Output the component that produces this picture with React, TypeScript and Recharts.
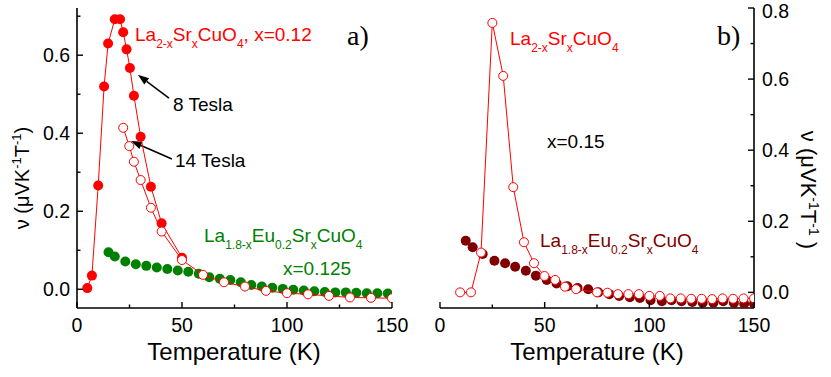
import React from "react";
import { ScatterChart, Scatter, XAxis, YAxis, ReferenceLine } from "recharts";

const FONT = "'Liberation Sans', Arial, sans-serif";
const SERIF = "'Liberation Serif', 'Times New Roman', serif";
const RED = "#ff0000";
const GREEN = "#008000";
const DARKRED = "#800000";

// axis ticks
const xTicks = [0, 25, 50, 75, 100, 125, 150];
const xMajor = [0, 50, 100, 150];
const yTicksA = [0, 0.1, 0.2, 0.3, 0.4, 0.5, 0.6, 0.7];
const yTicksB = [0, 0.1, 0.2, 0.3, 0.4, 0.5, 0.6, 0.7, 0.8];
const yMajor = [0, 0.2, 0.4, 0.6, 0.8];

// panel a) La2-xSrxCuO4 x=0.12, 8 Tesla (filled)
const tA8 = [4.9, 7.1, 10.1, 12.9, 14.8, 18, 20.5, 22, 23.6, 25.2, 27.1, 30.3, 35.2, 40.3, 50];
const vA8 = [0.003, 0.035, 0.266, 0.52, 0.63, 0.692, 0.692, 0.659, 0.615, 0.567, 0.496, 0.391, 0.263, 0.169, 0.081];
// panel a) 14 Tesla (open)
const tA14 = [22, 24.9, 27.1, 30.3, 35.2, 40.3, 50, 60, 70, 80, 90, 100, 110, 120, 130, 140, 150];
const vA14 = [0.414, 0.367, 0.327, 0.28, 0.209, 0.148, 0.075, 0.037, 0.018, 0.007, -0.004, -0.01, -0.013, -0.017, -0.021, -0.022, -0.023];
// panel a) La1.8-xEu0.2SrxCuO4 x=0.125
const tAEu = [15, 18, 23, 28, 33, 38, 43, 48, 53, 58, 63, 68, 73, 78, 83, 88, 93, 98, 103, 108, 113, 118, 123, 128, 133, 138, 143, 148];
const vAEu = [0.095, 0.084, 0.071, 0.064, 0.06, 0.056, 0.052, 0.048, 0.045, 0.04, 0.031, 0.027, 0.024, 0.018, 0.011, 0.007, 0.004, 0.001, -0.001, -0.003, -0.005, -0.007, -0.008, -0.008, -0.009, -0.01, -0.01, -0.011];

// panel b) La2-xSrxCuO4 x=0.15 (open)
const tB = [9.6, 14.8, 19.6, 25, 30.2, 35, 40.1, 44.9, 49.9, 55, 59.7, 65, 75, 80, 85, 90, 95, 100, 105, 110, 115, 120, 125, 130, 135, 140, 145, 150];
const vB = [0, 0, 0.112, 0.758, 0.609, 0.296, 0.141, 0.082, 0.046, 0.035, 0.016, 0.009, 0, -0.001, -0.005, -0.005, -0.005, -0.01, -0.01, -0.017, -0.017, -0.018, -0.018, -0.019, -0.017, -0.018, -0.017, -0.017];
// panel b) La1.8-xEu0.2SrxCuO4 x=0.15
const tBEu = [12.3, 15.6, 20.4, 26, 31.1, 35.9, 41, 45.8, 51, 55.7, 60.8, 65.7, 70.8, 75.6, 80.9, 85.6, 90.7, 95.5, 100.6, 106, 110.6, 115.4, 120.5, 125.5, 130.6, 135.3, 140.4, 145.3, 150];
const vBEu = [0.145, 0.127, 0.108, 0.089, 0.082, 0.072, 0.061, 0.047, 0.035, 0.025, 0.017, 0.012, 0.009, 0, -0.005, -0.01, -0.014, -0.016, -0.022, -0.025, -0.022, -0.025, -0.027, -0.029, -0.029, -0.025, -0.03, -0.032, -0.032];

// arrows (tail -> tip) in data units
const arrow8T = [{ x: 43.8, y: 0.49 }, { x: 29, y: 0.55 }];
const arrow14T = [{ x: 45.2, y: 0.334 }, { x: 25.7, y: 0.38 }];

const zip = (t: number[], v: number[]) => t.map((x, i) => ({ t: x, v: v[i] }));

type Side = "left" | "right" | "top" | "bottom";

const tickRenderer = (side: Side, majors: number[], showLabel: boolean, fmt: (v: number) => string) => (props: any) => {
  const { x, y, payload } = props;
  const v = payload.value;
  const major = majors.some((m) => Math.abs(m - v) < 1e-6);
  const len = major ? 6 : 3.5;
  const st = { stroke: "#000", strokeWidth: 1.4 };
  // keep the topmost label inside the page
  const ly = Math.max(y, 11);
  let line = null;
  let label = null;
  if (side === "left") {
    line = <line x1={x} y1={y} x2={x + len} y2={y} {...st} />;
    if (showLabel && major) label = <text x={x - 7} y={ly} dy="0.35em" textAnchor="end" fontSize={19.5} fill="#000">{fmt(v)}</text>;
  } else if (side === "right") {
    line = <line x1={x} y1={y} x2={x - len} y2={y} {...st} />;
    if (showLabel && major) label = <text x={x + 8} y={ly} dy="0.35em" textAnchor="start" fontSize={19.5} fill="#000">{fmt(v)}</text>;
  } else if (side === "top") {
    line = <line x1={x} y1={y} x2={x} y2={y + len} {...st} />;
  } else {
    line = <line x1={x} y1={y} x2={x} y2={y - len} {...st} />;
    if (showLabel && major) label = <text x={x} y={y + 10} dy="0.71em" textAnchor="middle" fontSize={19.5} fill="#000">{fmt(v)}</text>;
  }
  return (
    <g>
      {line}
      {label}
    </g>
  );
};

const fx = (v: number) => String(v);
const fy = (v: number) => v.toFixed(1);
const axisLine = { stroke: "#000", strokeWidth: 1.6 };

const filled = (color: string, r: number) => (p: any) => <circle cx={p.cx} cy={p.cy} r={r} fill={color} />;
const open = (color: string, r: number) => (p: any) => <circle cx={p.cx} cy={p.cy} r={r} fill="#fff" stroke={color} strokeWidth={1} />;

const arrowShape = (p: any) => {
  const { x1, y1, x2, y2 } = p;
  const ang = Math.atan2(y2 - y1, x2 - x1);
  const L = 11;
  const W = 4;
  const bx = x2 - L * Math.cos(ang);
  const by = y2 - L * Math.sin(ang);
  const nx = -Math.sin(ang) * W;
  const ny = Math.cos(ang) * W;
  return (
    <g>
      <line x1={x1} y1={y1} x2={bx} y2={by} stroke="#000" strokeWidth={1.5} />
      <polygon points={`${x2},${y2} ${bx + nx},${by + ny} ${bx - nx},${by - ny}`} fill="#000" />
    </g>
  );
};

// chemical formula: [text, shift] pieces, shift > 0 = subscript, < 0 = superscript
const Formula = ({ parts, small = 12 }: { parts: [string, number][]; small?: number }) => {
  let cur = 0;
  return (
    <>
      {parts.map(([s, shift], i) => {
        const dy = shift - cur;
        cur = shift;
        return (
          <tspan key={i} dy={dy} fontSize={shift !== 0 ? small : undefined}>
            {s}
          </tspan>
        );
      })}
    </>
  );
};

const lsco: [string, number][] = [["La", 0], ["2-x", 7], ["Sr", 0], ["x", 7], ["CuO", 0], ["4", 7]];
const lesco: [string, number][] = [["La", 0], ["1.8-x", 7], ["Eu", 0], ["0.2", 7], ["Sr", 0], ["x", 7], ["CuO", 0], ["4", 7]];
const unitL: [string, number][] = [["ν (μVK", 0], ["-1", -8], ["T", 0], ["-1", -8], [")", 0]];
const unitR: [string, number][] = [["ν (μVK", 0], ["-1", -8], ["T", 0], ["-1", -8], [" )", 0]];

const PanelA = () => (
  <ScatterChart width={410} height={377} margin={{ top: 8, right: 18, bottom: 0, left: 27 }} style={{ fontFamily: FONT }}>
    <XAxis xAxisId="b" type="number" dataKey="t" domain={[0, 150]} ticks={xTicks} interval={0} allowDataOverflow height={69}
      tickSize={0} tickMargin={0} tickLine={false} axisLine={axisLine} tick={tickRenderer("bottom", xMajor, true, fx)} />
    <XAxis xAxisId="t" orientation="top" type="number" dataKey="t" domain={[0, 150]} ticks={xTicks} interval={0} allowDataOverflow height={0}
      tickSize={0} tickMargin={0} tickLine={false} axisLine={axisLine} tick={tickRenderer("top", xMajor, false, fx)} />
    <YAxis yAxisId="l" type="number" dataKey="v" domain={[-0.048, 0.721]} ticks={yTicksA} interval={0} allowDataOverflow width={50}
      tickSize={0} tickMargin={0} tickLine={false} axisLine={axisLine} tick={tickRenderer("left", yMajor, true, fy)} />
    <YAxis yAxisId="r" orientation="right" type="number" dataKey="v" domain={[-0.048, 0.721]} ticks={yTicksA} interval={0} allowDataOverflow width={0}
      tickSize={0} tickMargin={0} tickLine={false} axisLine={axisLine} tick={tickRenderer("right", yMajor, false, fy)} />
    <Scatter xAxisId="b" yAxisId="l" data={zip(tAEu, vAEu)} dataKey="v" shape={filled(GREEN, 5)} isAnimationActive={false} />
    <Scatter xAxisId="b" yAxisId="l" data={zip(tA8, vA8)} dataKey="v" shape={filled(RED, 5)} line={{ stroke: RED, strokeWidth: 1 }} lineType="joint" isAnimationActive={false} />
    <Scatter xAxisId="b" yAxisId="l" data={zip(tA14, vA14)} dataKey="v" shape={open(RED, 4.5)} line={{ stroke: RED, strokeWidth: 1 }} lineType="joint" isAnimationActive={false} />
    <ReferenceLine xAxisId="b" yAxisId="l" segment={arrow8T} ifOverflow="visible" shape={arrowShape} />
    <ReferenceLine xAxisId="b" yAxisId="l" segment={arrow14T} ifOverflow="visible" shape={arrowShape} />
  </ScatterChart>
);

const PanelB = () => (
  <ScatterChart width={421} height={377} margin={{ top: 8, right: 0, bottom: 0, left: 30 }} style={{ fontFamily: FONT }}>
    <XAxis xAxisId="b" type="number" dataKey="t" domain={[0, 150]} ticks={xTicks} interval={0} allowDataOverflow height={69}
      tickSize={0} tickMargin={0} tickLine={false} axisLine={axisLine} tick={tickRenderer("bottom", xMajor, true, fx)} />
    <XAxis xAxisId="t" orientation="top" type="number" dataKey="t" domain={[0, 150]} ticks={xTicks} interval={0} allowDataOverflow height={0}
      tickSize={0} tickMargin={0} tickLine={false} axisLine={axisLine} tick={tickRenderer("top", xMajor, false, fx)} />
    <YAxis yAxisId="l" type="number" dataKey="v" domain={[-0.044, 0.8]} ticks={yTicksB} interval={0} allowDataOverflow width={0}
      tickSize={0} tickMargin={0} tickLine={false} axisLine={axisLine} tick={tickRenderer("left", yMajor, false, fy)} />
    <YAxis yAxisId="r" orientation="right" type="number" dataKey="v" domain={[-0.044, 0.8]} ticks={yTicksB} interval={0} allowDataOverflow width={77}
      tickSize={0} tickMargin={0} tickLine={false} axisLine={axisLine} tick={tickRenderer("right", yMajor, true, fy)} />
    <Scatter xAxisId="b" yAxisId="r" data={zip(tBEu, vBEu)} dataKey="v" shape={filled(DARKRED, 5)} isAnimationActive={false} />
    <Scatter xAxisId="b" yAxisId="r" data={zip(tB, vB)} dataKey="v" shape={open(RED, 4.5)} line={{ stroke: RED, strokeWidth: 1 }} lineType="joint" isAnimationActive={false} />
  </ScatterChart>
);

const Labels = () => (
  <svg width={831} height={377} style={{ position: "absolute", left: 0, top: 0, pointerEvents: "none", fontFamily: FONT }}>
    <text x={135} y={41} fontSize={19} fill={RED}>
      <Formula parts={[...lsco, [", x=0.12", 0]]} />
    </text>
    <text x={347} y={45} fontSize={28} fontFamily={SERIF} fill="#000">a)</text>
    <text x={173} y={111} fontSize={19} fill="#000">8 Tesla</text>
    <text x={175} y={167} fontSize={19} fill="#000">14 Tesla</text>
    <text x={204} y={242} fontSize={19} fill={GREEN}>
      <Formula parts={lesco} />
    </text>
    <text x={283} y={275} fontSize={19} fill={GREEN}>x=0.125</text>

    <text x={510} y={45} fontSize={19} fill={RED}>
      <Formula parts={lsco} />
    </text>
    <text x={717} y={45} fontSize={28} fontFamily={SERIF} fill="#000">b)</text>
    <text x={547} y={148} fontSize={19} fill="#000">x=0.15</text>
    <text x={540} y={247} fontSize={19} fill={DARKRED}>
      <Formula parts={lesco} />
    </text>

    <text x={234} y={360} fontSize={24} textAnchor="middle" fill="#000">Temperature (K)</text>
    <text x={597} y={360} fontSize={24} textAnchor="middle" fill="#000">Temperature (K)</text>

    <text x={29} y={178} fontSize={20} textAnchor="middle" transform="rotate(-90 29 178)" fill="#000">
      <Formula parts={unitL} small={13} />
    </text>
    <text x={801} y={190} fontSize={22} textAnchor="middle" transform="rotate(90 801 190)" fill="#000">
      <Formula parts={unitR} small={14} />
    </text>
  </svg>
);

export default function App() {
  return (
    <div style={{ position: "absolute", left: 0, top: 0, width: 831, height: 377, background: "#fff", fontFamily: FONT }}>
      <div style={{ position: "absolute", left: 0, top: 0 }}>
        <PanelA />
      </div>
      <div style={{ position: "absolute", left: 410, top: 0 }}>
        <PanelB />
      </div>
      <Labels />
    </div>
  );
}
